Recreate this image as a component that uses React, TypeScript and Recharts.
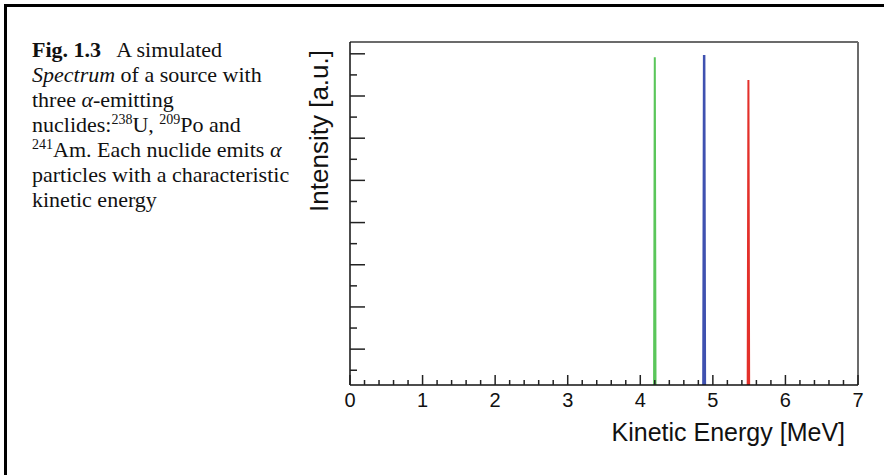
// App.tsx
import React from 'react';
import { LineChart, Line, XAxis, YAxis, ReferenceLine } from 'recharts';

// alpha peaks: energy [MeV] vs intensity [a.u.]
const uEnergy = [4.19, 4.2, 4.21];
const uCounts = [0, 777, 0];
const poEnergy = [4.87, 4.88, 4.89];
const poCounts = [0, 782, 0];
const amEnergy = [5.48, 5.49, 5.5];
const amCounts = [0, 723, 0];

const xTicks = [
  0, 0.2, 0.4, 0.6, 0.8, 1, 1.2, 1.4, 1.6, 1.8, 2, 2.2, 2.4, 2.6, 2.8, 3, 3.2, 3.4, 3.6, 3.8,
  4, 4.2, 4.4, 4.6, 4.8, 5, 5.2, 5.4, 5.6, 5.8, 6, 6.2, 6.4, 6.6, 6.8, 7,
];
const yMajor = [85, 185, 285, 385, 485, 585, 685, 785];
const yMinor = [35, 135, 235, 335, 435, 535, 635, 735];
const yTicks = [...yMinor, ...yMajor].sort((a, b) => a - b);
const yMax = 813;

const toPoints = (e: number[], v: number[]) => e.map((x, i) => ({ e: x, v: v[i] }));

const sans = 'Liberation Sans, Arial, Helvetica, sans-serif';

const XTick = (props: any) => {
  const { x, y, payload } = props;
  const major = Math.abs(payload.value - Math.round(payload.value)) < 1e-6;
  return (
    <g>
      <line x1={x} x2={x} y1={y} y2={y - (major ? 10 : 5)} stroke="#222" strokeWidth={1.5} />
      {major && (
        <text x={x} y={y + 22} textAnchor="middle" fontSize={20} fontFamily={sans} fill="#111">
          {Math.round(payload.value)}
        </text>
      )}
    </g>
  );
};

const YTick = (props: any) => {
  const { x, y, payload } = props;
  const major = yMajor.includes(payload.value);
  return <line x1={x} x2={x + (major ? 15 : 7)} y1={y} y2={y} stroke="#222" strokeWidth={1.5} />;
};

const supStyle: React.CSSProperties = { fontSize: 14, lineHeight: 0, verticalAlign: 'super' };

const App: React.FC = () => {
  return (
    <div style={{ position: 'fixed', left: 0, top: 0, width: 884, height: 475, background: '#fff' }}>
      <div
        style={{
          position: 'absolute',
          left: 4,
          top: 4,
          width: 880,
          height: 471,
          borderTop: '3px solid #000',
          borderLeft: '3px solid #000',
          boxSizing: 'border-box',
        }}
      />
      <div
        style={{
          position: 'absolute',
          left: 32,
          top: 37,
          fontFamily: 'Liberation Serif, Times New Roman, serif',
          fontSize: 22,
          lineHeight: '25px',
          color: '#111',
          whiteSpace: 'nowrap',
        }}
      >
        <b>Fig. 1.3</b>&nbsp;&nbsp; A simulated
        <br />
        <i>Spectrum</i> of a source with
        <br />
        three <i>α</i>-emitting
        <br />
        nuclides:<sup style={supStyle}>238</sup>U, <sup style={supStyle}>209</sup>Po and
        <br />
        <sup style={supStyle}>241</sup>Am. Each nuclide emits <i>α</i>
        <br />
        particles with a characteristic
        <br />
        kinetic energy
      </div>

      <div style={{ position: 'absolute', left: 0, top: 0 }}>
        <LineChart width={884} height={475} margin={{ top: 42, right: 26, bottom: 60, left: 290 }}>
          <XAxis
            type="number"
            dataKey="e"
            domain={[0, 7]}
            ticks={xTicks}
            interval={0}
            tickSize={0}
            tickMargin={0}
            tickLine={false}
            tick={<XTick />}
            axisLine={{ stroke: '#111', strokeWidth: 1.5 }}
            allowDataOverflow
          />
          <YAxis
            type="number"
            dataKey="v"
            width={60}
            domain={[0, yMax]}
            ticks={yTicks}
            interval={0}
            tickSize={0}
            tickMargin={0}
            tickLine={false}
            tick={<YTick />}
            axisLine={{ stroke: '#111', strokeWidth: 1.5 }}
            allowDataOverflow
          />
          <ReferenceLine y={yMax} stroke="#6b6b6b" strokeWidth={2} />
          <ReferenceLine x={7} stroke="#6b6b6b" strokeWidth={2} />
          <Line
            data={toPoints(uEnergy, uCounts)}
            dataKey="v"
            stroke="#5ac65a"
            strokeWidth={2}
            dot={false}
            isAnimationActive={false}
          />
          <Line
            data={toPoints(poEnergy, poCounts)}
            dataKey="v"
            stroke="#3f51b0"
            strokeWidth={2.5}
            dot={false}
            isAnimationActive={false}
          />
          <Line
            data={toPoints(amEnergy, amCounts)}
            dataKey="v"
            stroke="#e3302a"
            strokeWidth={2}
            dot={false}
            isAnimationActive={false}
          />
        </LineChart>
      </div>

      <div
        style={{
          position: 'absolute',
          left: 306,
          top: 250,
          width: 200,
          textAlign: 'right',
          transformOrigin: 'left top',
          transform: 'rotate(-90deg)',
          fontFamily: sans,
          fontSize: 26,
          lineHeight: '26px',
          color: '#111',
          whiteSpace: 'nowrap',
        }}
      >
        Intensity [a.u.]
      </div>
      <div
        style={{
          position: 'absolute',
          right: 39,
          top: 420,
          fontFamily: sans,
          fontSize: 25,
          lineHeight: '25px',
          color: '#111',
          whiteSpace: 'nowrap',
        }}
      >
        Kinetic Energy [MeV]
      </div>
    </div>
  );
};

export default App;
